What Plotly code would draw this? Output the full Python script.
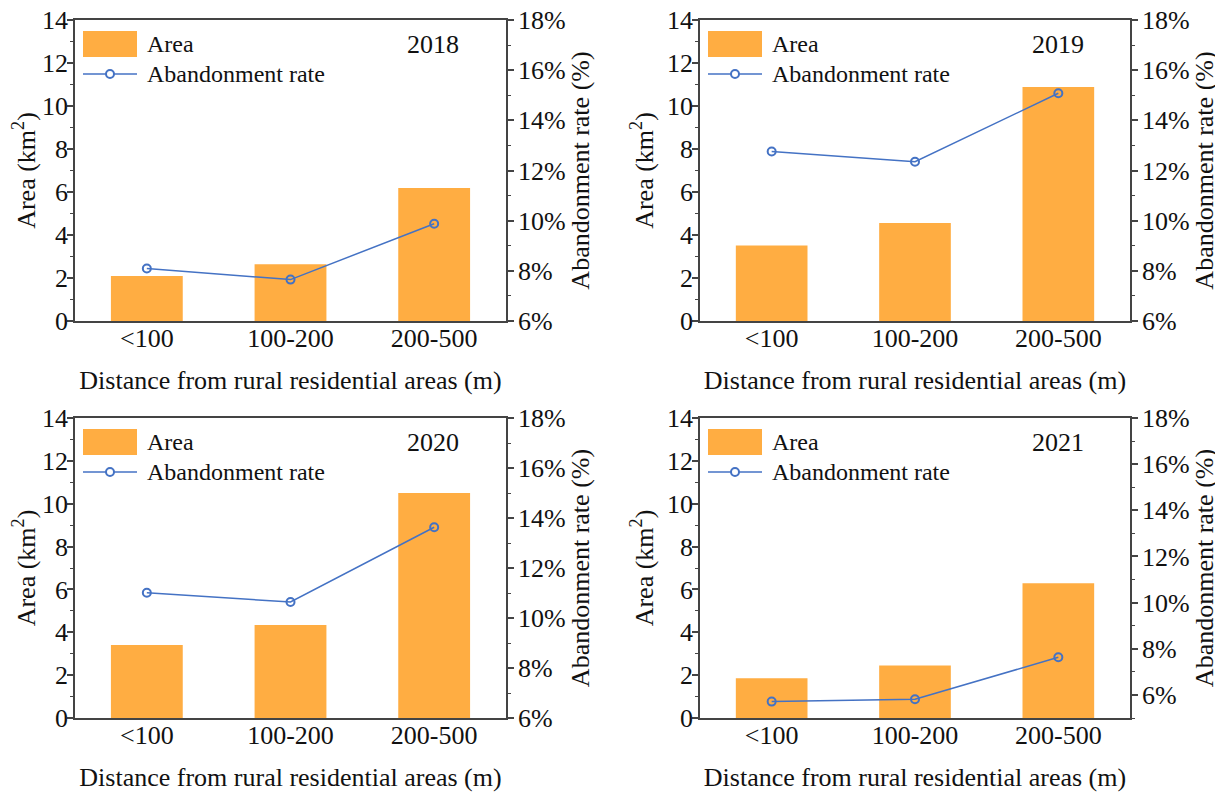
import plotly.graph_objects as go

categories = ["<100", "100-200", "200-500"]
years = ["2018", "2019", "2020", "2021"]
area_2018 = [2.09, 2.64, 6.19]
area_2019 = [3.51, 4.56, 10.88]
area_2020 = [3.41, 4.34, 10.50]
area_2021 = [1.86, 2.45, 6.29]
rate_2018 = [8.09, 7.65, 9.88]
rate_2019 = [12.76, 12.35, 15.08]
rate_2020 = [11.01, 10.64, 13.63]
rate_2021 = [5.71, 5.81, 7.63]
rate_ranges = [[6, 18], [6, 18], [6, 18], [5, 18]]

areas = [area_2018, area_2019, area_2020, area_2021]
rates = [rate_2018, rate_2019, rate_2020, rate_2021]

OFF = 8  # page body margin
W, H = 1223 - OFF, 795 - OFF
ORANGE = "#FFAD42"
BLUE = "#4472C4"
AXC = "#444444"
FONT = "Liberation Serif"
FS = 26

# panel pixel boxes in the page: (left, right, top, bottom)
boxes = [(75, 506, 20, 321), (700, 1130, 20, 321),
         (75, 506, 418, 718), (700, 1130, 418, 718)]

fig = go.Figure()
layout = dict(
    template="none",
    width=W, height=H,
    margin=dict(l=0, r=0, t=0, b=0, pad=0, autoexpand=False),
    paper_bgcolor="white", plot_bgcolor="white",
    font=dict(family=FONT, size=FS, color="#111111"),
    showlegend=False,
    shapes=[], annotations=[],
)

for i in range(4):
    l, r, t, b = [v - OFF for v in boxes[i]]
    xd = [l / W, r / W]
    yd = [1 - b / H, 1 - t / H]
    n = i + 1
    xr = "x" if n == 1 else f"x{n}"
    y1n = 2 * i + 1
    y2n = 2 * i + 2
    yr1 = "y" if y1n == 1 else f"y{y1n}"
    yr2 = f"y{y2n}"
    xkey = "xaxis" if n == 1 else f"xaxis{n}"
    y1key = "yaxis" if y1n == 1 else f"yaxis{y1n}"
    y2key = f"yaxis{y2n}"

    fig.add_trace(go.Bar(x=categories, y=areas[i], xaxis=xr, yaxis=yr1,
                         marker=dict(color=ORANGE, line=dict(width=0)),
                         width=0.5, name="Area"))
    fig.add_trace(go.Scatter(x=categories, y=rates[i], xaxis=xr, yaxis=yr2,
                             mode="lines+markers", name="Abandonment rate",
                             line=dict(color=BLUE, width=1.5),
                             marker=dict(symbol="circle-open", size=8, color=BLUE,
                                         line=dict(color=BLUE, width=2))))

    layout[xkey] = dict(
        domain=xd, anchor=yr1, type="category", range=[-0.5, 2.5],
        automargin=False,
        showline=True, mirror=True, linecolor=AXC, linewidth=1.5,
        ticks="", showgrid=False, zeroline=False,
        tickfont=dict(size=FS), ticklabelstandoff=-7,
        title=dict(text="Distance from rural residential areas (m)",
                   font=dict(size=FS), standoff=19),
    )
    layout[y1key] = dict(
        domain=yd, anchor=xr, range=[0, 14], tick0=0, dtick=2,
        automargin=False, ticklabeloverflow="allow",
        showline=True, linecolor=AXC, linewidth=1.5,
        ticks="outside", ticklen=6, tickwidth=1.5, tickcolor=AXC,
        minor=dict(dtick=1, ticks="outside", ticklen=3, tickwidth=1.2, tickcolor=AXC),
        showgrid=False, zeroline=False, tickfont=dict(size=FS),
        ticklabelstandoff=-6,
        title=dict(text="Area (km<sup>2</sup>)", font=dict(size=FS), standoff=6),
    )
    layout[y2key] = dict(
        overlaying=yr1, side="right", anchor=xr, range=rate_ranges[i],
        automargin=False, ticklabeloverflow="allow",
        tick0=6, dtick=2, ticksuffix="%",
        showline=True, linecolor=AXC, linewidth=1.5,
        ticks="outside", ticklen=6, tickwidth=1.5, tickcolor=AXC,
        minor=dict(dtick=1, ticks="outside", ticklen=3, tickwidth=1.2, tickcolor=AXC),
        showgrid=False, zeroline=False, tickfont=dict(size=FS),
        ticklabelstandoff=-1,
        title=dict(text="Abandonment rate (%)", font=dict(size=FS), standoff=4),
    )

    xdom = f"{xr} domain"
    ydom = f"{yr1} domain"
    pw, ph = r - l, b - t
    # legend key: bar
    layout["shapes"].append(dict(type="rect", xref=xdom, yref=ydom,
                                 x0=8 / pw, x1=62 / pw, y0=1 - 37 / ph, y1=1 - 11 / ph,
                                 fillcolor=ORANGE, line=dict(width=0)))
    # legend key: line + marker
    ly = 1 - 54 / ph
    layout["shapes"].append(dict(type="line", xref=xdom, yref=ydom,
                                 x0=8 / pw, x1=62 / pw, y0=ly, y1=ly,
                                 line=dict(color=BLUE, width=1.5)))
    layout["shapes"].append(dict(type="circle", xref=xdom, yref=ydom,
                                 x0=31 / pw, x1=39 / pw, y0=ly - 4 / ph, y1=ly + 4 / ph,
                                 fillcolor="white", line=dict(color=BLUE, width=2)))
    layout["annotations"].append(dict(text="Area", xref=xdom, yref=ydom,
                                      x=70 / pw, y=1 - 24 / ph, xanchor="left", yanchor="middle",
                                      showarrow=False, font=dict(size=24)))
    layout["annotations"].append(dict(text="Abandonment rate", xref=xdom, yref=ydom,
                                      x=70 / pw, y=ly, xanchor="left", yanchor="middle",
                                      showarrow=False, font=dict(size=24)))
    layout["annotations"].append(dict(text=years[i], xref=xdom, yref=ydom,
                                      x=358 / pw, y=1 - 24 / ph, xanchor="center", yanchor="middle",
                                      showarrow=False, font=dict(size=FS)))

fig.update_layout(**layout)
fig.write_html("out.html")
